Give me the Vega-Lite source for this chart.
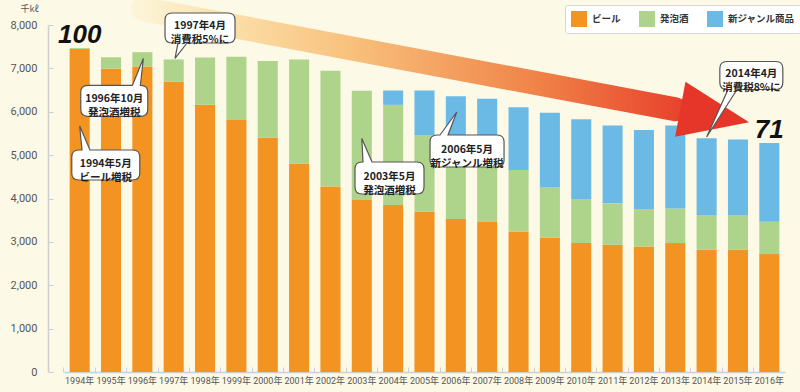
{
  "$schema": "https://vega.github.io/schema/vega-lite/v6.json",
  "width": 721,
  "height": 347,
  "autosize": {"type": "none"},
  "padding": {"left": 64, "top": 25, "right": 15, "bottom": 20},
  "background": "#fdf9e7",
  "config": {"view": {"stroke": null}, "font": "Noto Sans CJK JP"},
  "datasets": {
    "shipments": [
      {"year": "1994年", "type": "ビール", "value": 7447}, {"year": "1994年", "type": "発泡酒", "value": 20},
      {"year": "1995年", "type": "ビール", "value": 6991}, {"year": "1995年", "type": "発泡酒", "value": 268},
      {"year": "1996年", "type": "ビール", "value": 7044}, {"year": "1996年", "type": "発泡酒", "value": 330},
      {"year": "1997年", "type": "ビール", "value": 6691}, {"year": "1997年", "type": "発泡酒", "value": 515},
      {"year": "1998年", "type": "ビール", "value": 6161}, {"year": "1998年", "type": "発泡酒", "value": 1092},
      {"year": "1999年", "type": "ビール", "value": 5807}, {"year": "1999年", "type": "発泡酒", "value": 1461},
      {"year": "2000年", "type": "ビール", "value": 5406}, {"year": "2000年", "type": "発泡酒", "value": 1762},
      {"year": "2001年", "type": "ビール", "value": 4806}, {"year": "2001年", "type": "発泡酒", "value": 2400},
      {"year": "2002年", "type": "ビール", "value": 4276}, {"year": "2002年", "type": "発泡酒", "value": 2669},
      {"year": "2003年", "type": "ビール", "value": 3965}, {"year": "2003年", "type": "発泡酒", "value": 2519},
      {"year": "2004年", "type": "ビール", "value": 3850}, {"year": "2004年", "type": "発泡酒", "value": 2309}, {"year": "2004年", "type": "新ジャンル商品", "value": 331},
      {"year": "2005年", "type": "ビール", "value": 3702}, {"year": "2005年", "type": "発泡酒", "value": 1748}, {"year": "2005年", "type": "新ジャンル商品", "value": 1040},
      {"year": "2006年", "type": "ビール", "value": 3527}, {"year": "2006年", "type": "発泡酒", "value": 1575}, {"year": "2006年", "type": "新ジャンル商品", "value": 1258},
      {"year": "2007年", "type": "ビール", "value": 3457}, {"year": "2007年", "type": "発泡酒", "value": 1460}, {"year": "2007年", "type": "新ジャンル商品", "value": 1381},
      {"year": "2008年", "type": "ビール", "value": 3240}, {"year": "2008年", "type": "発泡酒", "value": 1417}, {"year": "2008年", "type": "新ジャンル商品", "value": 1447},
      {"year": "2009年", "type": "ビール", "value": 3102}, {"year": "2009年", "type": "発泡酒", "value": 1154}, {"year": "2009年", "type": "新ジャンル商品", "value": 1719},
      {"year": "2010年", "type": "ビール", "value": 2972}, {"year": "2010年", "type": "発泡酒", "value": 1016}, {"year": "2010年", "type": "新ジャンル商品", "value": 1839},
      {"year": "2011年", "type": "ビール", "value": 2933}, {"year": "2011年", "type": "発泡酒", "value": 955}, {"year": "2011年", "type": "新ジャンル商品", "value": 1793},
      {"year": "2012年", "type": "ビール", "value": 2894}, {"year": "2012年", "type": "発泡酒", "value": 864}, {"year": "2012年", "type": "新ジャンル商品", "value": 1824},
      {"year": "2013年", "type": "ビール", "value": 2972}, {"year": "2013年", "type": "発泡酒", "value": 799}, {"year": "2013年", "type": "新ジャンル商品", "value": 1910},
      {"year": "2014年", "type": "ビール", "value": 2818}, {"year": "2014年", "type": "発泡酒", "value": 801}, {"year": "2014年", "type": "新ジャンル商品", "value": 1769},
      {"year": "2015年", "type": "ビール", "value": 2818}, {"year": "2015年", "type": "発泡酒", "value": 801}, {"year": "2015年", "type": "新ジャンル商品", "value": 1739},
      {"year": "2016年", "type": "ビール", "value": 2718}, {"year": "2016年", "type": "発泡酒", "value": 746}, {"year": "2016年", "type": "新ジャンル商品", "value": 1818}
    ],
    "index": [
      {"year": "1994年", "value": 7467, "label": "100"},
      {"year": "2016年", "value": 5282, "label": "71"}
    ],
    "arrow": [
      {"year": "1996年", "value": 8371, "part": "shaft"},
      {"year": "2013年", "value": 6056, "part": "head"}
    ],
    "notes": [
      {"id": "n1", "year": "1994年", "value": 5671, "label": "1994年5月\nビール増税"},
      {"id": "n2", "year": "1996年", "value": 7228, "label": "1996年10月\n発泡酒増税"},
      {"id": "n3", "year": "1997年", "value": 7228, "label": "1997年4月\n消費税5%に"},
      {"id": "n4", "year": "2003年", "value": 5383, "label": "2003年5月\n発泡酒増税"},
      {"id": "n5", "year": "2006年", "value": 5994, "label": "2006年5月\n新ジャンル増税"},
      {"id": "n6", "year": "2014年", "value": 5418, "label": "2014年4月\n消費税8%に"}
    ]
  },
  "layer": [
    {
      "data": {"name": "shipments"},
      "transform": [{"calculate": "indexof(['ビール', '発泡酒', '新ジャンル商品'], datum.type)", "as": "stackOrder"}],
      "mark": {"type": "bar"},
      "encoding": {
        "x": {
          "field": "year", "type": "ordinal",
          "scale": {"paddingInner": 0.36, "paddingOuter": 0.18},
          "axis": {
            "title": null, "labelAngle": 0,
            "labelFont": "Roboto, Noto Sans CJK JP", "labelFontSize": 9, "labelColor": "#555",
            "domainColor": "#cfcfcf", "domainWidth": 1.5,
            "tickColor": "#cfcfcf", "tickSize": -5, "tickWidth": 1, "bandPosition": -0.283,
            "labelPadding": 9
          }
        },
        "y": {
          "field": "value", "type": "quantitative", "stack": "zero",
          "scale": {"domain": [0, 8000]},
          "axis": {
            "title": "千kℓ", "titleAngle": 0, "titleX": -19, "titleY": -17,
            "titleAlign": "center", "titleBaseline": "middle",
            "titleFontSize": 9, "titleFontWeight": "normal", "titleColor": "#555",
            "offset": 16, "values": [0, 1000, 2000, 3000, 4000, 5000, 6000, 7000, 8000], "format": ",.0f",
            "labelFont": "Roboto", "labelFontSize": 11, "labelColor": "#555",
            "domainColor": "#cfcfcf", "domainWidth": 1.5,
            "tickColor": "#cfcfcf", "tickSize": -5, "labelPadding": 16, "grid": false
          }
        },
        "color": {
          "field": "type", "type": "nominal",
          "sort": ["ビール", "発泡酒", "新ジャンル商品"],
          "scale": {"domain": ["ビール", "発泡酒", "新ジャンル商品"], "range": ["#f39322", "#aed48b", "#6bbae6"]},
          "legend": {
            "title": null, "orient": "none", "direction": "horizontal",
            "legendX": 501, "legendY": -20,
            "symbolType": "square", "symbolSize": 256, "symbolStrokeWidth": 0, "symbolOpacity": 1,
            "labelFontSize": 9.5, "labelFontWeight": "bold", "labelColor": "#333", "labelOffset": 5,
            "columnPadding": 18, "padding": 6,
            "fillColor": "#ffffff", "strokeColor": "#d6d6d6", "cornerRadius": 2
          }
        },
        "order": {"field": "stackOrder", "type": "quantitative", "sort": "ascending"}
      }
    },
    {
      "data": {"name": "arrow"},
      "mark": {
        "type": "trail", "size": 24,
        "color": {
          "gradient": "linear", "x1": 0, "y1": 0, "x2": 1, "y2": 0,
          "stops": [
            {"offset": 0, "color": "#fdf6dc"},
            {"offset": 0.15, "color": "#fce3ae"},
            {"offset": 0.4, "color": "#f8c07c"},
            {"offset": 0.72, "color": "#f08549"},
            {"offset": 1, "color": "#e8402b"}
          ]
        }
      },
      "encoding": {
        "x": {"field": "year", "type": "ordinal"},
        "y": {"field": "value", "type": "quantitative", "scale": {"domain": [0, 8000]}}
      }
    },
    {
      "data": {"name": "arrow"},
      "transform": [{"filter": "datum.part == 'head'"}],
      "mark": {"type": "point", "shape": "M10.2,-27.5L73.8,12.9L-0.2,27.5Z", "size": 4, "filled": true, "fill": "#e6362a", "opacity": 1, "strokeWidth": 0},
      "encoding": {
        "x": {"field": "year", "type": "ordinal"},
        "y": {"field": "value", "type": "quantitative", "scale": {"domain": [0, 8000]}}
      }
    },
    {
      "data": {"name": "notes"},
      "mark": {"type": "point", "size": 4, "filled": true, "fill": "#ffffff", "stroke": "#555555", "strokeWidth": 1.2, "opacity": 1},
      "encoding": {
        "x": {"field": "year", "type": "ordinal"},
        "y": {"field": "value", "type": "quantitative", "scale": {"domain": [0, 8000]}},
        "shape": {
          "field": "id", "type": "nominal", "legend": null,
          "scale": {
            "domain": ["n1", "n2", "n3", "n4", "n5", "n6"],
            "range": [
              "M-0.9,24L2.3,24L0,0L10.3,24L53.1,24Q60.1,24 60.1,31L60.1,47Q60.1,54 53.1,54L-0.9,54Q-7.9,54 -7.9,47L-7.9,31Q-7.9,24 -0.9,24Z",
              "M-54.6,26.8L-10,26.8L1,0L-2,26.8L-1.6,26.8Q5.4,26.8 5.4,33.8L5.4,50.8Q5.4,57.8 -1.6,57.8L-54.6,57.8Q-61.6,57.8 -61.6,50.8L-61.6,33.8Q-61.6,26.8 -54.6,26.8Z",
              "M-1.7,-45.5L54.3,-45.5Q61.3,-45.5 61.3,-38.5L61.3,-22.5Q61.3,-15.5 54.3,-15.5L13.3,-15.5L1.3,0L4.3,-15.5L-1.7,-15.5Q-8.7,-15.5 -8.7,-22.5L-8.7,-38.5Q-8.7,-45.5 -1.7,-45.5Z",
              "M0.2,23.5L1.2,23.5L0,0L10.2,23.5L55.2,23.5Q62.2,23.5 62.2,30.5L62.2,48.5Q62.2,55.5 55.2,55.5L0.2,55.5Q-6.8,55.5 -6.8,48.5L-6.8,30.5Q-6.8,23.5 0.2,23.5Z",
              "M-18.8,23L-15.8,23L0.9,0L-7.8,23L41.2,23Q48.2,23 48.2,30L48.2,48Q48.2,55 41.2,55L-18.8,55Q-25.8,55 -25.8,48L-25.8,30Q-25.8,23 -18.8,23Z",
              "M20.2,-75.5L69.2,-75.5Q76.2,-75.5 76.2,-68.5L76.2,-54.5Q76.2,-47.5 69.2,-47.5L30.4,-47.5L0,0L21.4,-47.5L20.2,-47.5Q13.2,-47.5 13.2,-54.5L13.2,-68.5Q13.2,-75.5 20.2,-75.5Z"
            ]
          }
        }
      }
    },
    {
      "data": {"name": "notes"},
      "transform": [{"filter": "datum.id == 'n1'"}],
      "mark": {"type": "text", "dx": 26.1, "dy": 37.5, "align": "center", "baseline": "middle", "lineBreak": "\n", "fontSize": 10.5, "fontWeight": "bold", "lineHeight": 14, "color": "#222"},
      "encoding": {"x": {"field": "year", "type": "ordinal"}, "y": {"field": "value", "type": "quantitative", "scale": {"domain": [0, 8000]}}, "text": {"field": "label"}}
    },
    {
      "data": {"name": "notes"},
      "transform": [{"filter": "datum.id == 'n2'"}],
      "mark": {"type": "text", "dx": -28.1, "dy": 40.8, "align": "center", "baseline": "middle", "lineBreak": "\n", "fontSize": 10.5, "fontWeight": "bold", "lineHeight": 14, "color": "#222"},
      "encoding": {"x": {"field": "year", "type": "ordinal"}, "y": {"field": "value", "type": "quantitative", "scale": {"domain": [0, 8000]}}, "text": {"field": "label"}}
    },
    {
      "data": {"name": "notes"},
      "transform": [{"filter": "datum.id == 'n3'"}],
      "mark": {"type": "text", "dx": 26.3, "dy": -32, "align": "center", "baseline": "middle", "lineBreak": "\n", "fontSize": 10.5, "fontWeight": "bold", "lineHeight": 14, "color": "#222"},
      "encoding": {"x": {"field": "year", "type": "ordinal"}, "y": {"field": "value", "type": "quantitative", "scale": {"domain": [0, 8000]}}, "text": {"field": "label"}}
    },
    {
      "data": {"name": "notes"},
      "transform": [{"filter": "datum.id == 'n4'"}],
      "mark": {"type": "text", "dx": 27.7, "dy": 38, "align": "center", "baseline": "middle", "lineBreak": "\n", "fontSize": 10.5, "fontWeight": "bold", "lineHeight": 14, "color": "#222"},
      "encoding": {"x": {"field": "year", "type": "ordinal"}, "y": {"field": "value", "type": "quantitative", "scale": {"domain": [0, 8000]}}, "text": {"field": "label"}}
    },
    {
      "data": {"name": "notes"},
      "transform": [{"filter": "datum.id == 'n5'"}],
      "mark": {"type": "text", "dx": 11.2, "dy": 37.5, "align": "center", "baseline": "middle", "lineBreak": "\n", "fontSize": 10.5, "fontWeight": "bold", "lineHeight": 14, "color": "#222"},
      "encoding": {"x": {"field": "year", "type": "ordinal"}, "y": {"field": "value", "type": "quantitative", "scale": {"domain": [0, 8000]}}, "text": {"field": "label"}}
    },
    {
      "data": {"name": "notes"},
      "transform": [{"filter": "datum.id == 'n6'"}],
      "mark": {"type": "text", "dx": 44.7, "dy": -63, "align": "center", "baseline": "middle", "lineBreak": "\n", "fontSize": 10.5, "fontWeight": "bold", "lineHeight": 14, "color": "#222"},
      "encoding": {"x": {"field": "year", "type": "ordinal"}, "y": {"field": "value", "type": "quantitative", "scale": {"domain": [0, 8000]}}, "text": {"field": "label"}}
    },
    {
      "data": {"name": "index"},
      "mark": {"type": "text", "dy": -5, "align": "center", "baseline": "alphabetic", "font": "Liberation Sans", "fontSize": 26, "fontWeight": "bold", "fontStyle": "italic", "color": "#111"},
      "encoding": {"x": {"field": "year", "type": "ordinal"}, "y": {"field": "value", "type": "quantitative", "scale": {"domain": [0, 8000]}}, "text": {"field": "label"}}
    }
  ]
}
